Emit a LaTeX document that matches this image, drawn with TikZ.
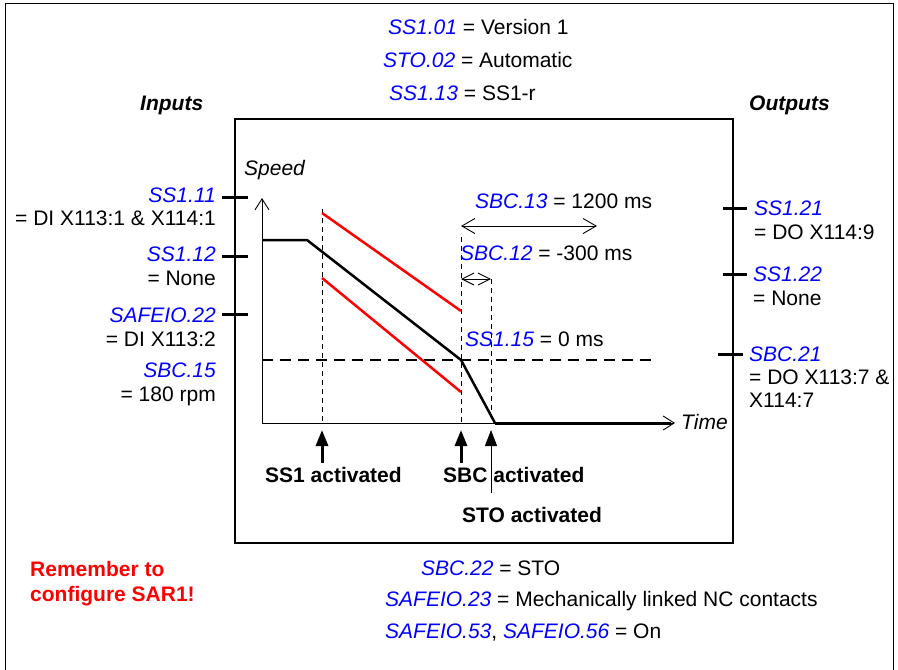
\documentclass[tikz,border=0pt]{standalone}
\usepackage{fontspec}
\setmainfont{Liberation Sans}
\usetikzlibrary{arrows.meta,positioning}
\definecolor{prmblue}{RGB}{0,0,255}
\definecolor{warnred}{RGB}{255,0,0}
\newcommand{\prm}[1]{\textcolor{prmblue}{\itshape #1}}

\begin{document}
\begin{tikzpicture}[x=1pt,y=-1pt,
  txt/.style={inner sep=0pt,font=\fontsize{21}{25}\selectfont},
  hdr/.style={txt,font=\fontsize{21}{25}\selectfont\bfseries\itshape},
  evt/.style={txt,font=\fontsize{21}{25}\selectfont\bfseries},
  tick/.style={line width=3pt},
  barb/.style={line width=0.9pt,{Straight Barb[length=13pt,width=15pt]}-{Straight Barb[length=13pt,width=15pt]}},
  trig/.style={-{Triangle[length=16pt,width=12pt]}}]
\useasboundingbox (0,0) rectangle (898,670);
%% outside frame (open at the bottom)
\draw[line width=1.5pt] (5.5,670) -- (5.5,3.5) -- (893.5,3.5) -- (893.5,670);
%% inner box
\draw[line width=1.5pt] (235,119) rectangle (733,543);

%% top settings
\node[txt,anchor=base west] (ver) at (388,34) {\prm{SS1.01} = Version 1};
\node[txt,anchor=base west] (sto) at (383,67) {\prm{STO.02} = Automatic};
\node[txt,anchor=base west] (ramp) at (389,100) {\prm{SS1.13} = SS1-r};
\node[hdr,anchor=base west] (inputs) at (140,110) {Inputs};
\node[hdr,anchor=base west] (outputs) at (749,110) {Outputs};

%% inputs
\draw[tick] (222,197) -- (248,197)(222,256) -- (248,256)(222,314) -- (248,314);
\node[txt,anchor=base east] (in1) at (216,202) {\prm{SS1.11}};
\node[txt,anchor=base east] (in1v) at (216,225) {= DI X113:1 \& X114:1};
\node[txt,anchor=base east] (in2) at (216,261) {\prm{SS1.12}};
\node[txt,anchor=base east] (in2v) at (216,285) {= None};
\node[txt,anchor=base east] (in3) at (216,322) {\prm{SAFEIO.22}};
\node[txt,anchor=base east] (in3v) at (216,346) {= DI X113:2};
\node[txt,anchor=base east] (in4) at (216,377) {\prm{SBC.15}};
\node[txt,anchor=base east] (in4v) at (216,401) {= 180 rpm};

%% outputs
\draw[tick] (723,208) -- (747,208)(723,274) -- (747,274)(718,354) -- (743,354);
\node[txt,anchor=base west] (out1) at (754,215) {\prm{SS1.21}};
\node[txt,anchor=base west] (out1v) at (754,239) {= DO X114:9};
\node[txt,anchor=base west] (out2) at (753,281) {\prm{SS1.22}};
\node[txt,anchor=base west] (out2v) at (753,305) {= None};
\node[txt,anchor=base west] (out3) at (749,361) {\prm{SBC.21}};
\node[txt,anchor=base west] (out3v) at (749,384) {= DO X113:7 \&};
\node[txt,anchor=base west] (out3w) at (749,407) {X114:7};

%% axes
\coordinate (o) at (262,423);
\draw[line width=0.9pt,-{Straight Barb[length=11pt,width=14pt]}] (o) -- (262,198);
\draw[line width=0.9pt,-{Straight Barb[length=11pt,width=14pt]}] (o) -- (675,423);
\node[txt,anchor=base west] (speed) at (244,175) {\itshape Speed};
\node[txt,anchor=base west] (time) at (681,429) {\itshape Time};

%% event lines
\draw[line width=0.9pt,dash pattern=on 5pt off 4pt] (322,209) -- (322,423);
\draw[line width=0.9pt,dash pattern=on 5pt off 4pt] (461,237) -- (461,423);
\draw[line width=0.9pt,dash pattern=on 5pt off 4pt] (491,279) -- (491,423);

%% speed limit
\draw[line width=2.5pt,dash pattern=on 11pt off 7pt] (262,360) -- (651,360);
\node[txt,anchor=base west] (zero) at (465,346) {\prm{SS1.15} = 0 ms};

%% ramp monitoring limits
\draw[warnred,line width=2.5pt] (322,213) -- (461,311);
\draw[warnred,line width=2.5pt] (322,278) -- (461,392);

%% speed curve
\draw[line width=2.5pt,line join=round] (262,240) -- (307,240) -- (461,360) -- (495,423);
\draw[line width=3pt] (495,423) -- (671,423);

%% delays
\draw[barb] (461,226) -- (597,226);
\node[txt,anchor=base west] (delay) at (475,208) {\prm{SBC.13} = 1200 ms};
\draw[barb,{Straight Barb[length=12pt,width=12pt]}-{Straight Barb[length=12pt,width=12pt]}] (461,279) -- (491,279);
\node[txt,anchor=base west] (pre) at (460,260) {\prm{SBC.12} = -300 ms};

%% activation points
\draw[trig,line width=3pt] (322,463) -- (322,430);
\draw[trig,line width=3pt] (461,463) -- (461,430);
\draw[trig,line width=1pt] (491,493) -- (491,430);
\node[evt,anchor=base west] (ss1) at (265,482) {SS1 activated};
\node[evt,anchor=base west] (sbc) at (443,482) {SBC activated};
\node[evt,anchor=base west] (stoa) at (462,522) {STO activated};

%% bottom settings
\node[evt,anchor=base west,text=warnred,align=left] (remind) at (30,601) {Remember to\\configure SAR1!};
\node[txt,anchor=base west] (brake) at (421,575) {\prm{SBC.22} = STO};
\node[txt,anchor=base west] (fb) at (385,606) {\prm{SAFEIO.23} = Mechanically linked NC contacts};
\node[txt,anchor=base west] (on) at (385,638) {\prm{SAFEIO.53}, \prm{SAFEIO.56} = On};
\end{tikzpicture}
\end{document}
